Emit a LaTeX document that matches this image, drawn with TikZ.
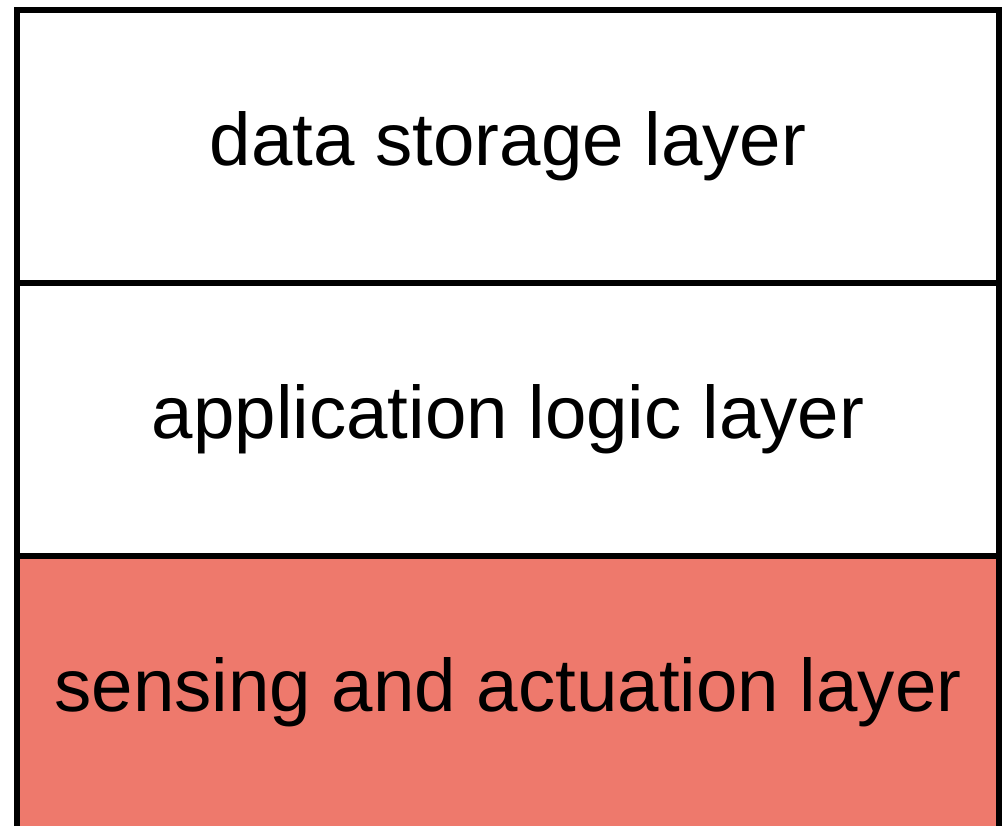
\documentclass[tikz,border=0pt]{standalone}
\usepackage{fontspec}
\setmainfont{Liberation Sans}
\definecolor{layerred}{RGB}{238,121,108}
\begin{document}
\begin{tikzpicture}[x=1pt,y=1pt,
  layerbox/.style={draw=black, line width=6pt, minimum width=982pt, minimum height=273pt, inner sep=0pt, anchor=north west, font=\fontsize{74.5}{90}\selectfont}]
\useasboundingbox (0,0) rectangle (1007,825);
\node[layerbox, fill=white] (storage) at (14,818) {data storage layer};
\node[layerbox, fill=white] (logic) at (14,545) {application logic layer};
\node[layerbox, fill=layerred] (sensing) at (14,272) {sensing and actuation layer};
\end{tikzpicture}
\end{document}
